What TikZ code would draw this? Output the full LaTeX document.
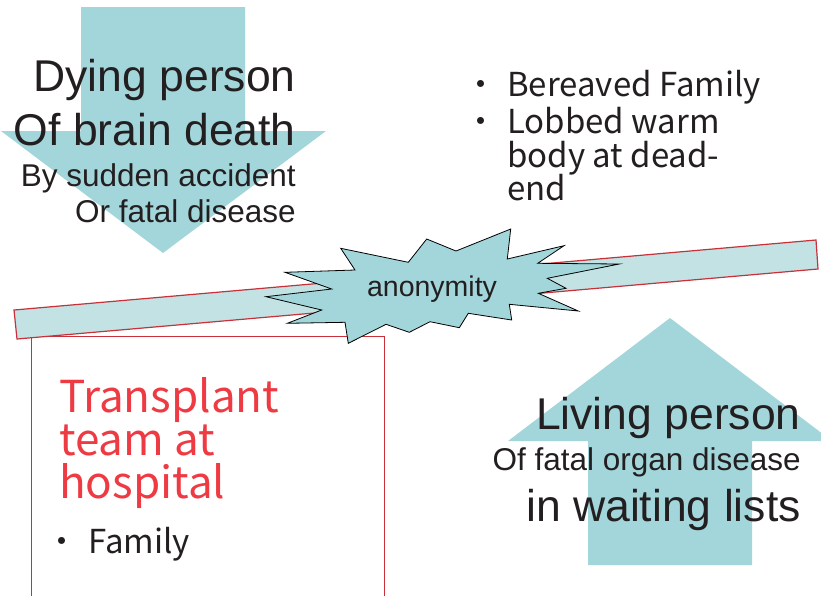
\documentclass[tikz,border=0pt]{standalone}
\usepackage{fontspec}
\setmainfont{Liberation Sans}
\newfontfamily\jp{Noto Sans CJK JP}
\definecolor{arrowfill}{HTML}{A2D6DA}
\definecolor{barfill}{HTML}{C3E2E4}
\definecolor{redline}{HTML}{C8303A}
\definecolor{redtext}{HTML}{EE3B43}
\definecolor{txt}{HTML}{231F20}
\begin{document}
\begin{tikzpicture}[x=1pt,y=-1pt,
  bigarrow/.style={fill=arrowfill,draw=none},
  lbl/.style={inner sep=0pt,text=txt},
  big/.style={lbl,font=\fontsize{44.5}{50}\selectfont},
  small/.style={lbl,font=\fontsize{31.5}{36}\selectfont},
  jptxt/.style={lbl,font=\jp\fontsize{33}{36}\selectfont},
  jpred/.style={lbl,text=redtext,font=\jp\fontsize{44}{50}\selectfont}]
\useasboundingbox (0,0) rectangle (821,595);
\clip (0,0) rectangle (821,595);
% down arrow
\path[bigarrow] (81,7) -- (245,7) -- (245,131) -- (326,131) -- (163,253) -- (1,131) -- (81,131) -- cycle;
% up arrow
\path[bigarrow] (670,318) -- (832,441) -- (752,441) -- (752,565) -- (588,565) -- (588,441) -- (508,441) -- cycle;
% red box
\draw[redline,line width=0.8pt] (31,600) -- (31,336) -- (384,336) -- (384,600);
% bar
\draw[fill=barfill,draw=redline,line width=1.2pt] (14,310) -- (816,240) -- (818,269) -- (17,339) -- cycle;
% explosion
\draw[fill=arrowfill,draw=black,line width=0.8pt,line join=miter]
 (340.7,248.3) -- (408.3,262.3) -- (426.7,239) -- (456,251) -- (510.7,229) -- (507.3,259)
 -- (564,245.7) -- (537.7,263.3) -- (619.3,264) -- (547.3,278.3) -- (566,288.3) -- (538.3,293.3)
 -- (578.3,311) -- (509.3,304.3) -- (511.7,320) -- (468.3,313.3) -- (459.3,327.7) -- (430,321.7)
 -- (409.3,332.3) -- (386,324.3) -- (348.3,343.3) -- (345,322.3) -- (287.3,323.3) -- (321.7,310)
 -- (266,296.7) -- (331.7,289) -- (285,272.3) -- (355,270) -- cycle;
\node[lbl,font=\fontsize{28.5}{32}\selectfont,anchor=base] (anon) at (432,296) {anonymity};
% dying person texts
\node[big,anchor=base east] (d1) at (296,91) {Dying person};
\node[big,anchor=base east] (d2) at (296,145) {Of brain death};
\node[small,anchor=base east] (d3) at (296,186) {By sudden accident};
\node[small,anchor=base east] (d4) at (296,222) {Or fatal disease};
% living person texts
\node[big,anchor=base east] (l1) at (801,429) {Living person};
\node[lbl,font=\fontsize{31.5}{34}\selectfont,anchor=base east] (l2) at (801,470) {Of fatal organ disease};
\node[big,anchor=base east] (l3) at (801,521) {in waiting lists};
% bereaved
\node[jptxt,anchor=base] (b0) at (481,96) {・};
\node[jptxt,anchor=base west] (b1) at (507,96) {Bereaved Family};
\node[jptxt,anchor=base] (b2) at (481,133) {・};
\node[jptxt,anchor=base west] (b3) at (507,133) {Lobbed warm};
\node[jptxt,anchor=base west] (b4) at (507,167) {body at dead-};
\node[jptxt,anchor=base west] (b5) at (507,200) {end};
% transplant
\node[jpred,anchor=base west] (t1) at (59,412) {Transplant};
\node[jpred,anchor=base west] (t2) at (59,455) {team at};
\node[jpred,anchor=base west] (t3) at (59,498) {hospital};
\node[jptxt,anchor=base] (f0) at (62,553) {・};
\node[jptxt,anchor=base west] (f1) at (88,553) {Family};
\end{tikzpicture}
\end{document}
